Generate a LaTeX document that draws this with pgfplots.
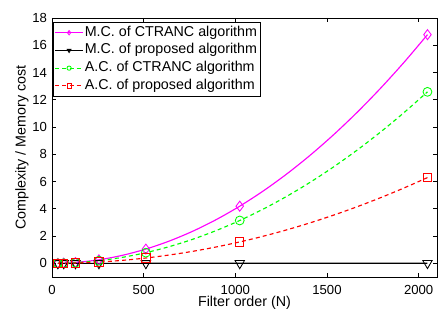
\documentclass[border=0pt]{standalone}
\usepackage{pgfplots}
\pgfplotsset{compat=1.18}
\usepackage{fontspec}
\setmainfont{Liberation Sans}
\definecolor{mag}{rgb}{1,0,1}
\definecolor{grn}{rgb}{0,1,0}
\definecolor{rd}{rgb}{1,0,0}
\pgfplotstableread{
N     mc      mp      ac      ap
32    0.0041  0.0002  0.0031  0.0015
64    0.0164  0.0004  0.0123  0.0061
128   0.0655  0.0008  0.0492  0.0246
256   0.2621  0.0016  0.1966  0.0983
384   0.5898  0.0024  0.4424  0.2212
512   1.0486  0.0032  0.7864  0.3932
640   1.6384  0.0040  1.2288  0.6144
768   2.3593  0.0048  1.7695  0.8847
896   3.2113  0.0056  2.4085  1.2042
1024  4.1943  0.0064  3.1457  1.5729
1152  5.3084  0.0072  3.9813  1.9907
1280  6.5536  0.0080  4.9152  2.4576
1408  7.9299  0.0088  5.9474  2.9737
1536  9.4372  0.0096  7.0779  3.5389
1664  11.0756 0.0104  8.3067  4.1534
1792  12.8451 0.0112  9.6338  4.8169
1920  14.7456 0.0120  11.0592 5.5296
2048  16.7772 0.0128  12.5829 6.2915
}\data
\begin{document}
\begin{tikzpicture}
\begin{axis}[
  name=ax,
  scale only axis, width=269.5pt, height=181.3pt,
  xmin=0, xmax=2100, ymin=-1, ymax=18,
  xtick={0,500,1000,1500,2000},
  ytick={0,2,4,6,8,10,12,14,16,18},
  scaled ticks=false,
  /pgf/number format/assume math mode=true,
  /pgf/number format/1000 sep={},
  tick label style={font=\fontsize{9.2}{10}\selectfont},
  xticklabel style={yshift=-2.5pt},
  every axis x label/.style={at={(axis description cs:0.5,0)}, anchor=base, yshift=-20.5pt, font=\fontsize{10}{12}\selectfont},
  every axis y label/.style={at={(axis description cs:0,0.5)}, xshift=-21pt, rotate=90, anchor=center, font=\fontsize{10}{12}\selectfont},
  xlabel={Filter order (N)}, ylabel={Complexity / Memory cost},
  tick align=inside, major tick length=2.9pt,
  axis line style={line width=0.6pt},
  every tick/.style={line width=0.5pt, black},
  legend style={at={(0,1)}, anchor=north west, xshift=0.7pt, yshift=-2.8pt,
    draw=black, line width=0.6pt, inner xsep=1pt, inner ysep=1pt,
    font=\fontsize{10}{12}\selectfont,
    nodes={inner xsep=1pt, inner ysep=1.2pt, text height=7.5pt, text depth=2.5pt},
    /tikz/every even column/.append style={column sep=0pt}},
  legend cell align=left,
  legend image code/.code={
    \draw[#1, mark indices={2}, mark size=1.5pt, line width=0.6pt]
      plot coordinates {(0cm,0cm) (0.34cm,0cm) (0.68cm,0cm)};},
]
\addplot[mag, line width=0.8pt, smooth, mark=diamond, mark size=3.5pt, mark indices={1,2,3,4,6,10,18}, mark options={solid, fill=none, line width=0.6pt}]
  table[x=N, y=mc] {\data};
\addlegendentry{M.C. of CTRANC algorithm}
\addplot[black, line width=0.8pt, mark=triangle, mark size=3.8pt, mark indices={1,2,3,4,6,10,18}, mark options={solid, fill=none, rotate=180, line width=0.6pt}]
  table[x=N, y=mp] {\data};
\addlegendentry{M.C. of proposed algorithm}
\addplot[grn, line width=0.8pt, dash pattern=on 2.8pt off 2.2pt, smooth, mark=o, mark size=3.1pt, mark indices={1,2,3,4,6,10,18}, mark options={solid, fill=none, line width=0.6pt}]
  table[x=N, y=ac] {\data};
\addlegendentry{A.C. of CTRANC algorithm}
\addplot[rd, line width=0.8pt, dash pattern=on 2.8pt off 2.2pt, smooth, mark=square, mark size=2.9pt, mark indices={1,2,3,4,6,10,18}, mark options={solid, fill=none, line width=0.6pt}]
  table[x=N, y=ap] {\data};
\addlegendentry{A.C. of proposed algorithm}
\node[anchor=base west, inner sep=0pt, yshift=2.1pt, font=\fontsize{9.2}{10}\selectfont] at (rel axis cs:0,1) {x 10\textsuperscript{6}};
\end{axis}
\path (ax.south west) ++(-36.4pt,-32.9pt) rectangle ++(307.3pt,226.8pt);
\end{tikzpicture}
\end{document}
